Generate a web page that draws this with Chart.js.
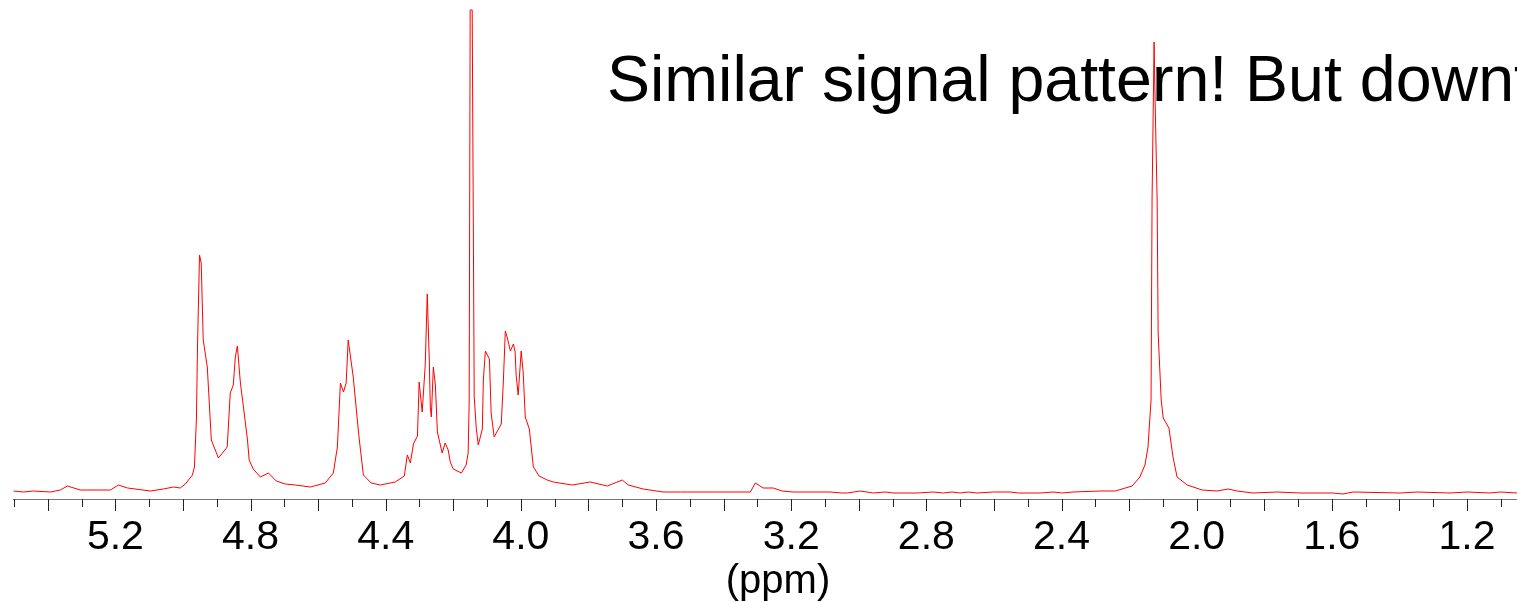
<!DOCTYPE html>
<html>
<head>
<meta charset="utf-8">
<script src="https://cdn.jsdelivr.net/npm/chart.js@4/dist/chart.umd.min.js"></script>
<style>
  html, body { margin: 0; padding: 0; background: #fff; overflow: hidden; }
  canvas { display: block; }
</style>
</head>
<body>
<canvas id="nmr" width="1517" height="602"></canvas>
<script>
// chemical shift (ppm) and intensity (a.u.)
const shiftPpm = [
  5.502, 5.472, 5.443, 5.392, 5.363, 5.342, 5.304, 5.215, 5.191, 5.164,
  5.096, 5.058, 5.028, 5.008, 4.993, 4.972, 4.966, 4.960, 4.957, 4.951,
  4.946, 4.940, 4.928, 4.916, 4.895, 4.869, 4.860, 4.851, 4.845, 4.839,
  4.830, 4.821, 4.809, 4.804, 4.792, 4.771, 4.747, 4.724, 4.697, 4.667,
  4.623, 4.579, 4.555, 4.543, 4.534, 4.525, 4.517, 4.511, 4.496, 4.484,
  4.478, 4.466, 4.443, 4.416, 4.372, 4.345, 4.336, 4.327, 4.318, 4.306,
  4.301, 4.292, 4.283, 4.277, 4.271, 4.268, 4.265, 4.259, 4.253, 4.247,
  4.233, 4.224, 4.215, 4.209, 4.200, 4.176, 4.162, 4.156, 4.153, 4.150,
  4.144, 4.138, 4.132, 4.126, 4.114, 4.111, 4.105, 4.093, 4.088, 4.079,
  4.058, 4.052, 4.046, 4.040, 4.031, 4.022, 4.017, 4.014, 4.008, 3.999,
  3.993, 3.987, 3.975, 3.963, 3.946, 3.922, 3.904, 3.848, 3.795, 3.744,
  3.700, 3.682, 3.638, 3.579, 3.528, 3.431, 3.321, 3.306, 3.283, 3.253,
  3.227, 3.194, 3.085, 3.049, 3.034, 2.996, 2.957, 2.922, 2.898, 2.827,
  2.780, 2.750, 2.724, 2.700, 2.676, 2.650, 2.602, 2.552, 2.528, 2.463,
  2.425, 2.398, 2.366, 2.286, 2.241, 2.191, 2.168, 2.153, 2.144, 2.135,
  2.132, 2.126, 2.123, 2.117, 2.114, 2.105, 2.099, 2.082, 2.070, 2.058,
  2.028, 1.984, 1.940, 1.907, 1.880, 1.833, 1.762, 1.694, 1.596, 1.567,
  1.537, 1.398, 1.348, 1.250, 1.200, 1.132, 1.102, 1.052
];
const intensity = [
  0, -1, 0, -1, 1, 5, 1, 1, 6, 3,
  0, 2, 4, 3, 7, 16, 24, 74, 144, 236,
  228, 151, 124, 51, 33, 44, 98, 106, 134, 145,
  108, 84, 51, 31, 22, 14, 18, 10, 7, 6,
  4, 8, 18, 44, 108, 99, 108, 151, 114, 71,
  51, 16, 8, 6, 9, 15, 36, 28, 47, 55,
  109, 79, 126, 197, 131, 84, 74, 124, 106, 59,
  38, 48, 41, 29, 22, 18, 26, 38, 88, 481,
  481, 94, 63, 46, 62, 111, 140, 132, 78, 54,
  67, 108, 160, 153, 140, 147, 139, 116, 96, 140,
  118, 74, 62, 24, 15, 11, 9, 6, 9, 5,
  11, 6, 2, -1, -1, -1, -1, 8, 3, 3,
  0, -1, -1, -2, -2, 0, -2, -1, -2, -2,
  -1, -2, -1, -2, -1, -2, -1, -1, -2, -2,
  -1, -2, -1, 0, 0, 5, 14, 26, 44, 91,
  291, 449, 391, 291, 158, 91, 73, 63, 34, 14,
  6, 1, 0, 2, 0, -2, -1, -2, -2, -3,
  -1, -2, -1, -2, -1, -2, -1, -2
];

// axis ticks every 0.1 ppm, labels every 0.4 ppm
const tickValues = [5.5, 5.4, 5.3, 5.2, 5.1, 5.0, 4.9, 4.8, 4.7, 4.6, 4.5, 4.4, 4.3, 4.2, 4.1, 4.0,
  3.9, 3.8, 3.7, 3.6, 3.5, 3.4, 3.3, 3.2, 3.1, 3.0, 2.9, 2.8, 2.7, 2.6, 2.5, 2.4, 2.3, 2.2, 2.1, 2.0,
  1.9, 1.8, 1.7, 1.6, 1.5, 1.4, 1.3, 1.2, 1.1];
const majorTicks = [5.4, 5.2, 5.0, 4.8, 4.6, 4.4, 4.2, 4.0, 3.8, 3.6, 3.4, 3.2, 3.0, 2.8, 2.6, 2.4,
  2.2, 2.0, 1.8, 1.6, 1.4, 1.2];
const tickLabels = ['5.2', '4.8', '4.4', '4.0', '3.6', '3.2', '2.8', '2.4', '2.0', '1.6', '1.2'];

const axisTitle = '(ppm)';
const note = 'Similar signal pattern! But downf';

const FONT = "'Liberation Sans', Arial, sans-serif";

function near(a, b){ return Math.abs(a - b) < 1e-6; }

const textPlugin = {
  id: 'texts',
  beforeDatasetsDraw(chart){
    const ctx = chart.ctx;
    ctx.save();
    ctx.fillStyle = '#000';
    ctx.font = '64.5px ' + FONT;
    ctx.textAlign = 'left';
    ctx.textBaseline = 'alphabetic';
    ctx.fillText(note, 607, 101);
    ctx.restore();
  },
  afterDraw(chart){
    const ctx = chart.ctx;
    const x = chart.scales.x;
    const top = chart.chartArea.bottom;
    ctx.save();
    // tick marks: long at 0.2 ppm, short in between
    ctx.strokeStyle = '#222';
    ctx.lineWidth = 1;
    ctx.beginPath();
    for (const v of tickValues){
      const px = Math.round(x.getPixelForValue(v)) + 0.5;
      const len = majorTicks.some(m => near(m, v)) ? 12 : 8;
      ctx.moveTo(px, top);
      ctx.lineTo(px, top + len);
    }
    ctx.stroke();
    ctx.fillStyle = '#000';
    ctx.font = '40px ' + FONT;
    ctx.textAlign = 'center';
    ctx.textBaseline = 'alphabetic';
    ctx.fillText(axisTitle, 778, 593);
    ctx.restore();
  }
};

new Chart(document.getElementById('nmr'), {
  type: 'line',
  data: {
    datasets: [{
      data: shiftPpm.map((p, i) => ({ x: p, y: intensity[i] })),
      borderColor: '#ff0000',
      borderWidth: 1,
      pointRadius: 0,
      tension: 0,
      fill: false
    }]
  },
  options: {
    responsive: false,
    animation: false,
    layout: { padding: { left: 13, right: 0, top: 0, bottom: 0 } },
    plugins: { legend: { display: false }, tooltip: { enabled: false } },
    scales: {
      x: {
        type: 'linear',
        reverse: true,
        min: 1.052,
        max: 5.502,
        afterBuildTicks(scale){
          scale.ticks = tickValues.map(v => ({ value: v }));
        },
        afterFit(scale){ scale.height = 103; },
        grid: { display: true, drawOnChartArea: false, drawTicks: false },
        border: { display: true, color: '#777', width: 1 },
        ticks: {
          autoSkip: false,
          maxRotation: 0,
          padding: 14,
          color: '#000',
          font: { family: FONT, size: 41 },
          callback: (v) => tickLabels.find(l => near(parseFloat(l), v)) || ''
        }
      },
      y: {
        display: false,
        min: -8,
        max: 491
      }
    }
  },
  plugins: [textPlugin]
});
</script>
</body>
</html>
